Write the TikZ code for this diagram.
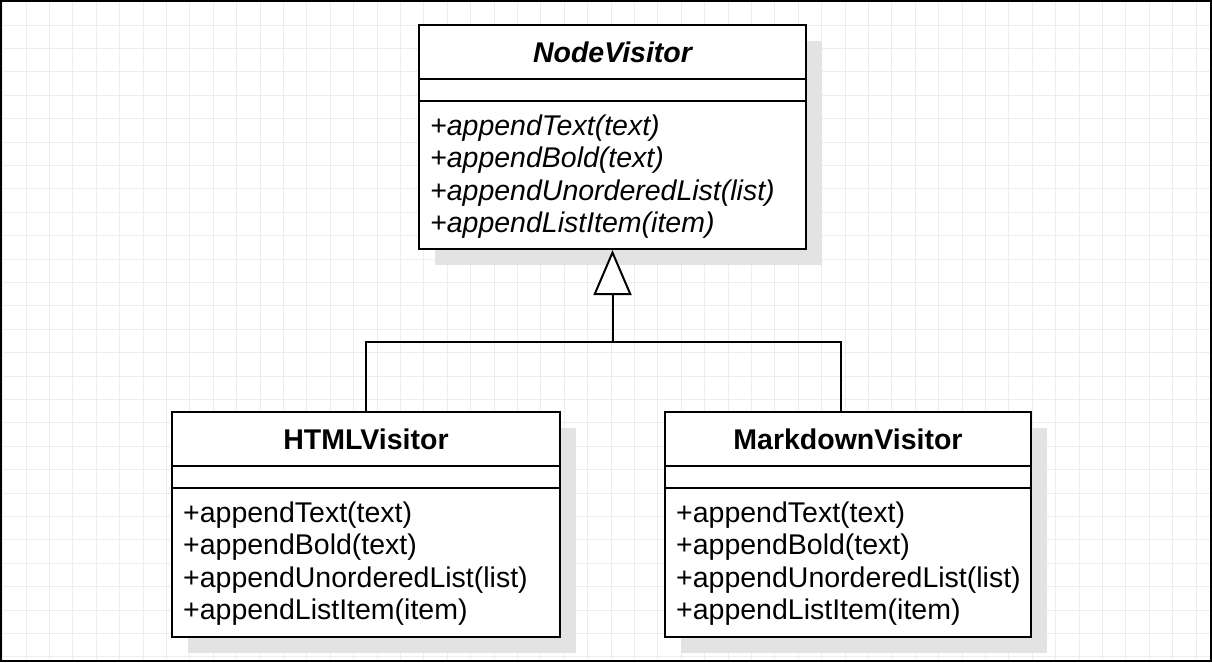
\documentclass[tikz,border=0pt]{standalone}
\usepackage{fontspec}
\setmainfont{Liberation Sans}
\usetikzlibrary{arrows.meta,shadows,calc}
\tikzset{
  gridline/.style={draw=black!7, line width=0.8pt},
  umlbox/.style={draw=black, line width=2pt, fill=white, minimum width=#1,
    minimum height=225pt, inner sep=0pt,
    drop shadow={shadow xshift=16pt, shadow yshift=-16pt, fill=black!11, opacity=1}},
  divider/.style={draw=black, line width=2pt},
  umltitle/.style={inner sep=0pt, anchor=base},
  umlmethod/.style={inner sep=0pt, anchor=base west},
  conn/.style={draw=black, line width=2pt},
  inherit/.style={conn, -{Triangle[open, length=45pt, width=38pt, fill=white]}},
}
\newcommand\umlcompartments[3]{%
  \draw[divider] ($(#1.north west)+(0,55)$) -- ($(#1.north east)+(0,55)$);
  \draw[divider] ($(#1.north west)+(0,77)$) -- ($(#1.north east)+(0,77)$);
  \node[umltitle, font=\fontsize{28.5pt}{33pt}\selectfont\bfseries#3] (#1-title) at ($(#1.north)+(0,38.5)$) {#2};
  \foreach \t [count=\k] in {{+appendText(text)},{+appendBold(text)},{+appendUnorderedList(list)},{+appendListItem(item)}}
    \node[umlmethod, font=\fontsize{28.5pt}{33pt}\selectfont#3] (#1-m\k) at ($(#1.north west)+(12,{78.5+32.5*\k})$) {\t};
}
\begin{document}
\begin{tikzpicture}[x=1pt, y=-1pt]
\useasboundingbox (0,0) rectangle (1212,662);
\fill[white] (0,0) rectangle (1212,662);
% grid
\foreach \i in {0,...,51} \draw[gridline] ({2.6+23.4*\i},0) -- ({2.6+23.4*\i},662);
\foreach \j in {0,...,28} \draw[gridline] (0,{1.6+23.4*\j}) -- (1212,{1.6+23.4*\j});
% frame
\draw[black, line width=2pt] (1,1) rectangle (1211,661);
% classes
\node[umlbox=387pt, minimum height=224pt] (nv) at (612.5,137) {};
\node[umlbox=388pt] (html) at (366,524.5) {};
\node[umlbox=366pt] (md) at (848,524.5) {};
\umlcompartments{nv}{NodeVisitor}{\itshape}
\umlcompartments{html}{HTMLVisitor}{}
\umlcompartments{md}{MarkdownVisitor}{}
% connectors
\coordinate (bus) at (612.5,341.5);
\coordinate (mdjoin) at (841,412);
\draw[conn] (html.north) |- (bus) -| (mdjoin);
\draw[inherit] (bus) -- (nv.south);
\end{tikzpicture}
\end{document}
